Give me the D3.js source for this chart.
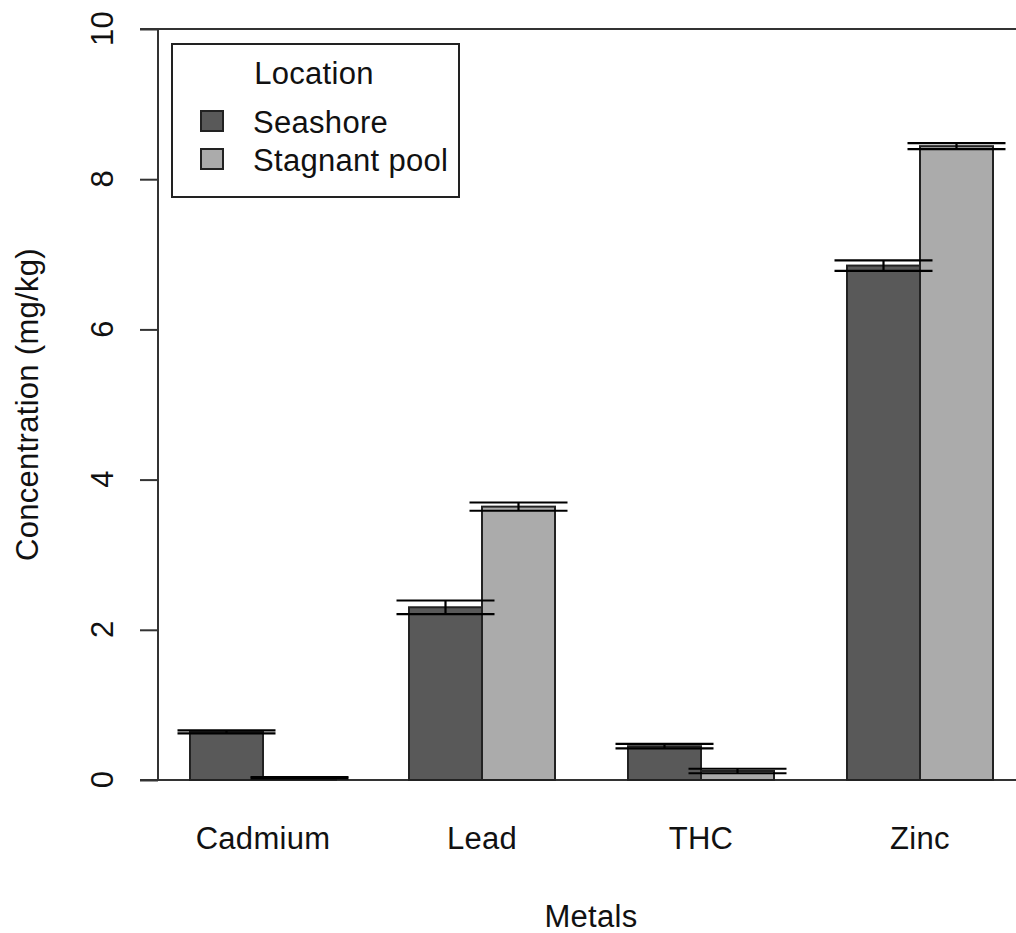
<!DOCTYPE html>
<html>
<head>
<meta charset="utf-8">
<script src="https://cdn.jsdelivr.net/npm/d3@7"></script>
<style>
  html, body { margin: 0; padding: 0; background: #fff; }
  svg { display: block; }
  text { font-family: "Liberation Sans", Arial, sans-serif; fill: #111; letter-spacing: 0.3px; }
</style>
</head>
<body>
<svg id="chart" width="1016" height="933"></svg>
<script>
const categories = ["Cadmium", "Lead", "THC", "Zinc"];
const seriesNames = ["Seashore", "Stagnant pool"];
const seashore = [0.64, 2.30, 0.45, 6.85];
const stagnant = [0.03, 3.64, 0.12, 8.44];
const seashoreErr = [0.02, 0.09, 0.03, 0.07];
const stagnantErr = [0.01, 0.055, 0.03, 0.04];
const yTicks = [0, 2, 4, 6, 8, 10];
const seriesColors = ["#595959", "#ababab"];

const svg = d3.select("#chart");
const fontSize = 31;

// y scale
const y = d3.scaleLinear().domain([0, 10]).range([780, 29]);
// x scale in bar-width units (R barplot beside, space = c(0,1))
const x = d3.scaleLinear().domain([1, 10]).range([190, 847]);

const bars = [];
categories.forEach((c, g) => {
  [seashore, stagnant].forEach((arr, j) => {
    const err = j === 0 ? seashoreErr : stagnantErr;
    bars.push({cat: c, g, j, v: arr[g], e: err[g], left: g * 3 + 1 + j});
  });
});

// horizontal frame lines
svg.append("line").attr("x1", 140).attr("x2", 1016).attr("y1", y(0)).attr("y2", y(0))
  .attr("stroke", "#333").attr("stroke-width", 2);
svg.append("line").attr("x1", 140).attr("x2", 1016).attr("y1", y(10)).attr("y2", y(10))
  .attr("stroke", "#333").attr("stroke-width", 2);

// bars
svg.append("g").selectAll("rect").data(bars).join("rect")
  .attr("x", d => x(d.left))
  .attr("width", d => x(d.left + 1) - x(d.left))
  .attr("y", d => y(d.v))
  .attr("height", d => y(0) - y(d.v))
  .attr("fill", d => seriesColors[d.j])
  .attr("stroke", "#222")
  .attr("stroke-width", 2);

// error bars
const capHalf = 49;
const eg = svg.append("g").attr("stroke", "#000").attr("stroke-width", 2.2);
bars.forEach(d => {
  const cx = x(d.left + 0.5);
  eg.append("line").attr("x1", cx).attr("x2", cx).attr("y1", y(d.v + d.e)).attr("y2", y(d.v - d.e));
  eg.append("line").attr("x1", cx - capHalf).attr("x2", cx + capHalf).attr("y1", y(d.v + d.e)).attr("y2", y(d.v + d.e));
  eg.append("line").attr("x1", cx - capHalf).attr("x2", cx + capHalf).attr("y1", y(d.v - d.e)).attr("y2", y(d.v - d.e));
});

// y axis
const yAxis = d3.axisLeft(y).tickValues(yTicks).tickSize(18).tickPadding(6).tickFormat(d3.format("d"));
const ya = svg.append("g").attr("transform", "translate(158,0)").call(yAxis);
ya.select(".domain").attr("stroke", "#333").attr("stroke-width", 2).attr("d", `M0,${y(10)}V${y(0)}`);
ya.selectAll(".tick line").attr("stroke", "#333").attr("stroke-width", 2);
ya.selectAll(".tick text")
  .attr("font-size", fontSize)
  .attr("font-family", "Liberation Sans, Arial, sans-serif")
  .attr("fill", "#111")
  .attr("text-anchor", "middle")
  .attr("dy", null)
  .attr("x", 0)
  .attr("transform", d => `translate(-56,-1) rotate(-90)`)
  .attr("dominant-baseline", "central");

// x category labels
svg.append("g").selectAll("text").data(categories).join("text")
  .attr("x", (d, g) => x(g * 3 + 2))
  .attr("y", 849)
  .attr("text-anchor", "middle")
  .attr("font-size", fontSize)
  .text(d => d);

// axis titles
svg.append("text").attr("x", 591).attr("y", 927).attr("text-anchor", "middle")
  .attr("font-size", fontSize).text("Metals");
svg.append("text").attr("transform", `translate(38,${(y(0) + y(10)) / 2}) rotate(-90)`)
  .attr("text-anchor", "middle").attr("font-size", fontSize)
  .text("Concentration (mg/kg)");

// legend
const lg = svg.append("g");
lg.append("rect").attr("x", 172).attr("y", 44).attr("width", 287).attr("height", 153)
  .attr("fill", "#fff").attr("stroke", "#222").attr("stroke-width", 2);
lg.append("text").attr("x", 314).attr("y", 84).attr("text-anchor", "middle")
  .attr("font-size", fontSize).text("Location");
seriesNames.forEach((n, i) => {
  lg.append("rect").attr("x", 201).attr("y", 111 + i * 38).attr("width", 22).attr("height", 20)
    .attr("fill", seriesColors[i]).attr("stroke", "#222").attr("stroke-width", 2);
  lg.append("text").attr("x", 253).attr("y", 133 + i * 38)
    .attr("font-size", fontSize).text(n);
});
</script>
</body>
</html>
